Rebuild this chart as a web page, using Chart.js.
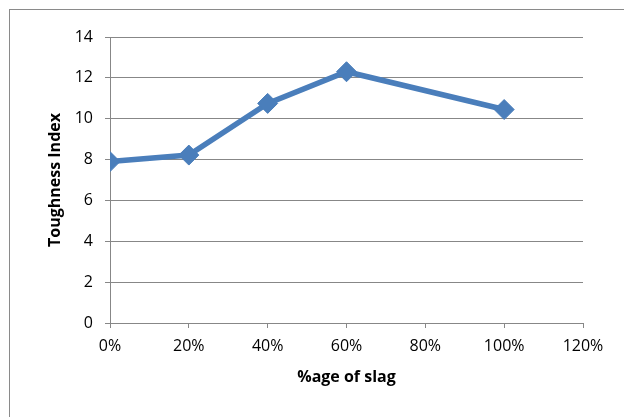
<!DOCTYPE html>
<html>
<head>
<meta charset="utf-8">
<script src="https://cdn.jsdelivr.net/npm/chart.js@4/dist/chart.umd.min.js"></script>
<style>
html,body{margin:0;padding:0;background:#fff;}
#c{display:block;}
</style>
</head>
<body>
<canvas id="c" width="624" height="417"></canvas>
<script>
const slagPercent = [0, 20, 40, 60, 100];
const toughnessIndex = [7.9, 8.22, 10.75, 12.3, 10.45];
const xTitle = '%age of slag';
const yTitle = 'Toughness Index';

const FONT = '"Open Sans", sans-serif';
const GRID = '#878787';

const borderPlugin = {
  id: 'outerBorder',
  beforeDraw(chart) {
    const ctx = chart.ctx;
    ctx.save();
    ctx.fillStyle = '#fff';
    ctx.fillRect(0, 0, chart.width, chart.height);
    ctx.strokeStyle = '#8a8a8a';
    ctx.lineWidth = 1;
    ctx.strokeRect(9.5, 9.5, 700, 500);
    ctx.restore();
  }
};

new Chart(document.getElementById('c'), {
  type: 'line',
  data: {
    datasets: [{
      data: slagPercent.map((x, i) => ({x: x, y: toughnessIndex[i]})),
      borderColor: '#4a7ebb',
      backgroundColor: '#4a7ebb',
      borderWidth: 5.5,
      pointStyle: 'rectRot',
      pointRadius: 10,
      pointBorderWidth: 1,
      pointBackgroundColor: '#4a7ebb',
      pointBorderColor: '#4a7ebb',
      tension: 0
    }]
  },
  options: {
    responsive: false,
    devicePixelRatio: 1,
    animation: false,
    layout: {padding: {top: 37, right: 41, left: 0, bottom: 0}},
    plugins: {legend: {display: false}, tooltip: {enabled: false}},
    scales: {
      x: {
        type: 'linear',
        min: 0, max: 120,
        afterFit(s) { s.height = 94; },
        ticks: {
          stepSize: 20,
          padding: 9,
          color: '#000',
          font: {family: FONT, size: 16},
          maxRotation: 0,
          callback: v => v + '%'
        },
        grid: {display: true, drawOnChartArea: false, drawTicks: true, tickLength: 5, color: GRID},
        border: {display: true, color: GRID, width: 1},
        title: {display: true, text: xTitle, color: '#000', font: {family: FONT, size: 16, weight: 'bold'}, padding: {top: 0, bottom: 30}}
      },
      y: {
        min: 0, max: 14,
        afterFit(s) { s.width = 110; },
        ticks: {
          stepSize: 2,
          padding: 12,
          color: '#000',
          font: {family: FONT, size: 16}
        },
        grid: {display: true, drawOnChartArea: true, drawTicks: true, tickLength: 5, color: GRID},
        border: {display: true, color: GRID, width: 1},
        title: {display: true, text: yTitle, color: '#000', font: {family: FONT, size: 16, weight: 'bold'}, padding: {top: 46, bottom: 0}}
      }
    }
  },
  plugins: [borderPlugin]
});
</script>
</body>
</html>
